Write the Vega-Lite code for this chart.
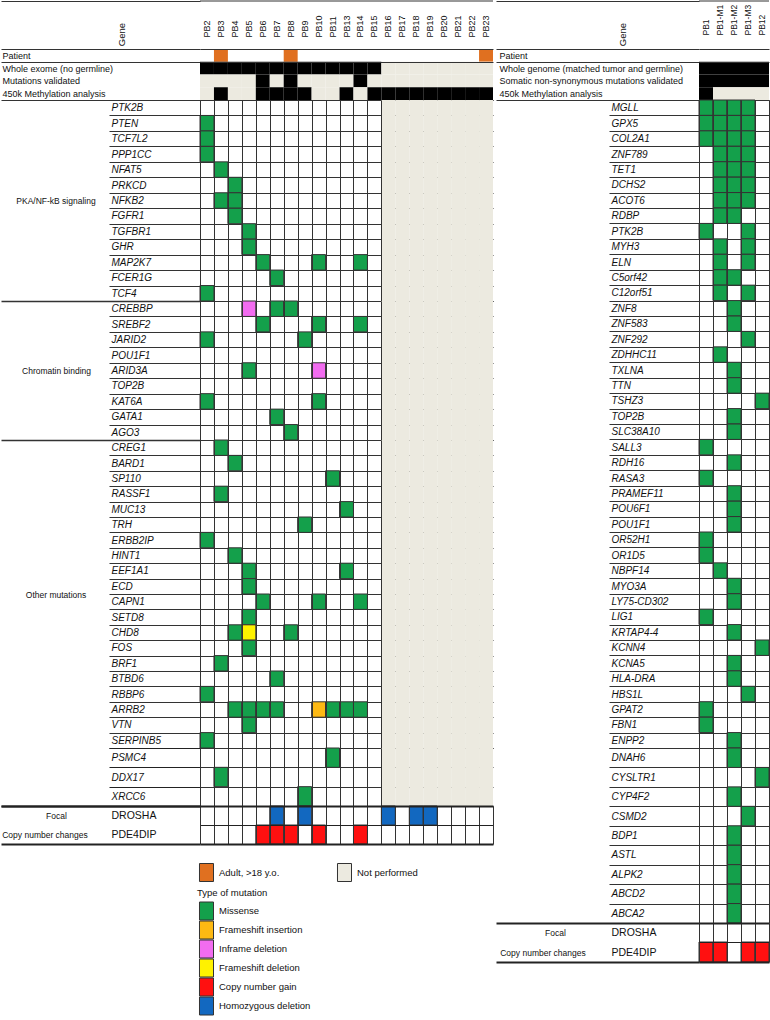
{
"$schema": "https://vega.github.io/schema/vega-lite/v6.json",
"padding": 0,
"background": "white",
"spacing": 1,
"bounds": "full",
"resolve": {"scale": {"color": "independent", "fill": "independent"}, "legend": {"color": "independent", "fill": "independent"}},
"config": {
  "font": "Liberation Sans",
  "view": {"stroke": null},
  "axis": {"labelFont": "Liberation Sans", "titleFont": "Liberation Sans", "labelColor": "#111", "titleColor": "#111", "labelOverlap": false, "labelLimit": 400, "domain": false},
  "legend": {"labelFont": "Liberation Sans", "titleFont": "Liberation Sans", "labelColor": "#111", "titleColor": "#111", "labelFontSize": 9.5, "titleFontSize": 9.5, "titleFontWeight": "normal", "padding": 0, "symbolType": "M-0.778,-1H0.778V1H-0.778Z", "symbolSize": 324, "symbolStrokeColor": "#333", "symbolStrokeWidth": 1, "labelOffset": 3, "rowPadding": 0}
},
"datasets": {
  "annL": [
    {"r":"Patient","p":"PB3","s":"Adult, >18 y.o."},
    {"r":"Patient","p":"PB8","s":"Adult, >18 y.o."},
    {"r":"Patient","p":"PB23","s":"Adult, >18 y.o."},
    {"r":"Whole exome (no germline)","p":"PB2","s":"Performed"},
    {"r":"Whole exome (no germline)","p":"PB3","s":"Performed"},
    {"r":"Whole exome (no germline)","p":"PB4","s":"Performed"},
    {"r":"Whole exome (no germline)","p":"PB5","s":"Performed"},
    {"r":"Whole exome (no germline)","p":"PB6","s":"Performed"},
    {"r":"Whole exome (no germline)","p":"PB7","s":"Performed"},
    {"r":"Whole exome (no germline)","p":"PB8","s":"Performed"},
    {"r":"Whole exome (no germline)","p":"PB9","s":"Performed"},
    {"r":"Whole exome (no germline)","p":"PB10","s":"Performed"},
    {"r":"Whole exome (no germline)","p":"PB11","s":"Performed"},
    {"r":"Whole exome (no germline)","p":"PB13","s":"Performed"},
    {"r":"Whole exome (no germline)","p":"PB14","s":"Performed"},
    {"r":"Whole exome (no germline)","p":"PB15","s":"Performed"},
    {"r":"Whole exome (no germline)","p":"PB16","s":"Not performed"},
    {"r":"Whole exome (no germline)","p":"PB17","s":"Not performed"},
    {"r":"Whole exome (no germline)","p":"PB18","s":"Not performed"},
    {"r":"Whole exome (no germline)","p":"PB19","s":"Not performed"},
    {"r":"Whole exome (no germline)","p":"PB20","s":"Not performed"},
    {"r":"Whole exome (no germline)","p":"PB21","s":"Not performed"},
    {"r":"Whole exome (no germline)","p":"PB22","s":"Not performed"},
    {"r":"Whole exome (no germline)","p":"PB23","s":"Not performed"},
    {"r":"Mutations validated","p":"PB2","s":"Not performed"},
    {"r":"Mutations validated","p":"PB3","s":"Not performed"},
    {"r":"Mutations validated","p":"PB4","s":"Not performed"},
    {"r":"Mutations validated","p":"PB5","s":"Not performed"},
    {"r":"Mutations validated","p":"PB6","s":"Performed"},
    {"r":"Mutations validated","p":"PB7","s":"Not performed"},
    {"r":"Mutations validated","p":"PB8","s":"Performed"},
    {"r":"Mutations validated","p":"PB9","s":"Not performed"},
    {"r":"Mutations validated","p":"PB10","s":"Not performed"},
    {"r":"Mutations validated","p":"PB11","s":"Not performed"},
    {"r":"Mutations validated","p":"PB13","s":"Not performed"},
    {"r":"Mutations validated","p":"PB14","s":"Performed"},
    {"r":"Mutations validated","p":"PB15","s":"Not performed"},
    {"r":"Mutations validated","p":"PB16","s":"Not performed"},
    {"r":"Mutations validated","p":"PB17","s":"Not performed"},
    {"r":"Mutations validated","p":"PB18","s":"Not performed"},
    {"r":"Mutations validated","p":"PB19","s":"Not performed"},
    {"r":"Mutations validated","p":"PB20","s":"Not performed"},
    {"r":"Mutations validated","p":"PB21","s":"Not performed"},
    {"r":"Mutations validated","p":"PB22","s":"Not performed"},
    {"r":"Mutations validated","p":"PB23","s":"Not performed"},
    {"r":"450k Methylation analysis","p":"PB2","s":"Not performed"},
    {"r":"450k Methylation analysis","p":"PB3","s":"Performed"},
    {"r":"450k Methylation analysis","p":"PB4","s":"Not performed"},
    {"r":"450k Methylation analysis","p":"PB5","s":"Not performed"},
    {"r":"450k Methylation analysis","p":"PB6","s":"Performed"},
    {"r":"450k Methylation analysis","p":"PB7","s":"Performed"},
    {"r":"450k Methylation analysis","p":"PB8","s":"Performed"},
    {"r":"450k Methylation analysis","p":"PB9","s":"Performed"},
    {"r":"450k Methylation analysis","p":"PB10","s":"Not performed"},
    {"r":"450k Methylation analysis","p":"PB11","s":"Not performed"},
    {"r":"450k Methylation analysis","p":"PB13","s":"Performed"},
    {"r":"450k Methylation analysis","p":"PB14","s":"Not performed"},
    {"r":"450k Methylation analysis","p":"PB15","s":"Performed"},
    {"r":"450k Methylation analysis","p":"PB16","s":"Performed"},
    {"r":"450k Methylation analysis","p":"PB17","s":"Performed"},
    {"r":"450k Methylation analysis","p":"PB18","s":"Performed"},
    {"r":"450k Methylation analysis","p":"PB19","s":"Performed"},
    {"r":"450k Methylation analysis","p":"PB20","s":"Performed"},
    {"r":"450k Methylation analysis","p":"PB21","s":"Performed"},
    {"r":"450k Methylation analysis","p":"PB22","s":"Performed"},
    {"r":"450k Methylation analysis","p":"PB23","s":"Performed"}
  ],
  "annR": [
    {"r":"Whole genome (matched tumor and germline)","p":"PB1","s":"Performed"},
    {"r":"Whole genome (matched tumor and germline)","p":"PB1-M1","s":"Performed"},
    {"r":"Whole genome (matched tumor and germline)","p":"PB1-M2","s":"Performed"},
    {"r":"Whole genome (matched tumor and germline)","p":"PB1-M3","s":"Performed"},
    {"r":"Whole genome (matched tumor and germline)","p":"PB12","s":"Performed"},
    {"r":"Somatic non-synonymous mutations validated","p":"PB1","s":"Performed"},
    {"r":"Somatic non-synonymous mutations validated","p":"PB1-M1","s":"Performed"},
    {"r":"Somatic non-synonymous mutations validated","p":"PB1-M2","s":"Performed"},
    {"r":"Somatic non-synonymous mutations validated","p":"PB1-M3","s":"Performed"},
    {"r":"Somatic non-synonymous mutations validated","p":"PB12","s":"Performed"},
    {"r":"450k Methylation analysis","p":"PB1","s":"Performed"},
    {"r":"450k Methylation analysis","p":"PB1-M1","s":"Not performed"},
    {"r":"450k Methylation analysis","p":"PB1-M2","s":"Not performed"},
    {"r":"450k Methylation analysis","p":"PB1-M3","s":"Not performed"},
    {"r":"450k Methylation analysis","p":"PB12","s":"Not performed"}
  ],
  "npL": [
    {"p":"PB16","s":"Not performed"},{"p":"PB17","s":"Not performed"},{"p":"PB18","s":"Not performed"},{"p":"PB19","s":"Not performed"},
    {"p":"PB20","s":"Not performed"},{"p":"PB21","s":"Not performed"},{"p":"PB22","s":"Not performed"},{"p":"PB23","s":"Not performed"}
  ],
  "mutL": [
    {"g":"PTEN","p":"PB2","t":"Missense"},
    {"g":"TCF7L2","p":"PB2","t":"Missense"},
    {"g":"PPP1CC","p":"PB2","t":"Missense"},
    {"g":"NFAT5","p":"PB3","t":"Missense"},
    {"g":"PRKCD","p":"PB4","t":"Missense"},
    {"g":"NFKB2","p":"PB3","t":"Missense"},
    {"g":"NFKB2","p":"PB4","t":"Missense"},
    {"g":"FGFR1","p":"PB4","t":"Missense"},
    {"g":"TGFBR1","p":"PB5","t":"Missense"},
    {"g":"GHR","p":"PB5","t":"Missense"},
    {"g":"MAP2K7","p":"PB6","t":"Missense"},
    {"g":"MAP2K7","p":"PB10","t":"Missense"},
    {"g":"MAP2K7","p":"PB14","t":"Missense"},
    {"g":"FCER1G","p":"PB7","t":"Missense"},
    {"g":"TCF4","p":"PB2","t":"Missense"},
    {"g":"CREBBP","p":"PB5","t":"Inframe deletion"},
    {"g":"CREBBP","p":"PB7","t":"Missense"},
    {"g":"CREBBP","p":"PB8","t":"Missense"},
    {"g":"SREBF2","p":"PB6","t":"Missense"},
    {"g":"SREBF2","p":"PB10","t":"Missense"},
    {"g":"SREBF2","p":"PB14","t":"Missense"},
    {"g":"JARID2","p":"PB2","t":"Missense"},
    {"g":"JARID2","p":"PB9","t":"Missense"},
    {"g":"ARID3A","p":"PB5","t":"Missense"},
    {"g":"ARID3A","p":"PB10","t":"Inframe deletion"},
    {"g":"KAT6A","p":"PB2","t":"Missense"},
    {"g":"KAT6A","p":"PB10","t":"Missense"},
    {"g":"GATA1","p":"PB7","t":"Missense"},
    {"g":"AGO3","p":"PB8","t":"Missense"},
    {"g":"CREG1","p":"PB3","t":"Missense"},
    {"g":"BARD1","p":"PB4","t":"Missense"},
    {"g":"SP110","p":"PB11","t":"Missense"},
    {"g":"RASSF1","p":"PB3","t":"Missense"},
    {"g":"MUC13","p":"PB13","t":"Missense"},
    {"g":"TRH","p":"PB9","t":"Missense"},
    {"g":"ERBB2IP","p":"PB2","t":"Missense"},
    {"g":"HINT1","p":"PB4","t":"Missense"},
    {"g":"EEF1A1","p":"PB5","t":"Missense"},
    {"g":"EEF1A1","p":"PB13","t":"Missense"},
    {"g":"ECD","p":"PB5","t":"Missense"},
    {"g":"CAPN1","p":"PB6","t":"Missense"},
    {"g":"CAPN1","p":"PB10","t":"Missense"},
    {"g":"CAPN1","p":"PB14","t":"Missense"},
    {"g":"SETD8","p":"PB5","t":"Missense"},
    {"g":"CHD8","p":"PB4","t":"Missense"},
    {"g":"CHD8","p":"PB5","t":"Frameshift deletion"},
    {"g":"CHD8","p":"PB8","t":"Missense"},
    {"g":"FOS","p":"PB5","t":"Missense"},
    {"g":"BRF1","p":"PB3","t":"Missense"},
    {"g":"BTBD6","p":"PB7","t":"Missense"},
    {"g":"RBBP6","p":"PB2","t":"Missense"},
    {"g":"ARRB2","p":"PB4","t":"Missense"},
    {"g":"ARRB2","p":"PB5","t":"Missense"},
    {"g":"ARRB2","p":"PB6","t":"Missense"},
    {"g":"ARRB2","p":"PB7","t":"Missense"},
    {"g":"ARRB2","p":"PB10","t":"Frameshift insertion"},
    {"g":"ARRB2","p":"PB11","t":"Missense"},
    {"g":"ARRB2","p":"PB13","t":"Missense"},
    {"g":"ARRB2","p":"PB14","t":"Missense"},
    {"g":"VTN","p":"PB5","t":"Missense"},
    {"g":"SERPINB5","p":"PB2","t":"Missense"},
    {"g":"PSMC4","p":"PB11","t":"Missense"},
    {"g":"DDX17","p":"PB3","t":"Missense"},
    {"g":"XRCC6","p":"PB9","t":"Missense"}
  ],
  "cnvL": [
    {"g":"DROSHA","p":"PB7","t":"Homozygous deletion"},
    {"g":"DROSHA","p":"PB9","t":"Homozygous deletion"},
    {"g":"DROSHA","p":"PB16","t":"Homozygous deletion"},
    {"g":"DROSHA","p":"PB18","t":"Homozygous deletion"},
    {"g":"DROSHA","p":"PB19","t":"Homozygous deletion"},
    {"g":"PDE4DIP","p":"PB6","t":"Copy number gain"},
    {"g":"PDE4DIP","p":"PB7","t":"Copy number gain"},
    {"g":"PDE4DIP","p":"PB8","t":"Copy number gain"},
    {"g":"PDE4DIP","p":"PB10","t":"Copy number gain"},
    {"g":"PDE4DIP","p":"PB14","t":"Copy number gain"}
  ],
  "mutR": [
    {"g":"MGLL","p":"PB1","t":"Missense"},{"g":"MGLL","p":"PB1-M1","t":"Missense"},{"g":"MGLL","p":"PB1-M2","t":"Missense"},{"g":"MGLL","p":"PB1-M3","t":"Missense"},
    {"g":"GPX5","p":"PB1","t":"Missense"},{"g":"GPX5","p":"PB1-M1","t":"Missense"},{"g":"GPX5","p":"PB1-M2","t":"Missense"},{"g":"GPX5","p":"PB1-M3","t":"Missense"},
    {"g":"COL2A1","p":"PB1","t":"Missense"},{"g":"COL2A1","p":"PB1-M1","t":"Missense"},{"g":"COL2A1","p":"PB1-M2","t":"Missense"},{"g":"COL2A1","p":"PB1-M3","t":"Missense"},
    {"g":"ZNF789","p":"PB1-M1","t":"Missense"},{"g":"ZNF789","p":"PB1-M2","t":"Missense"},{"g":"ZNF789","p":"PB1-M3","t":"Missense"},
    {"g":"TET1","p":"PB1-M1","t":"Missense"},{"g":"TET1","p":"PB1-M2","t":"Missense"},{"g":"TET1","p":"PB1-M3","t":"Missense"},
    {"g":"DCHS2","p":"PB1-M1","t":"Missense"},{"g":"DCHS2","p":"PB1-M2","t":"Missense"},{"g":"DCHS2","p":"PB1-M3","t":"Missense"},
    {"g":"ACOT6","p":"PB1-M1","t":"Missense"},{"g":"ACOT6","p":"PB1-M2","t":"Missense"},{"g":"ACOT6","p":"PB1-M3","t":"Missense"},
    {"g":"RDBP","p":"PB1-M1","t":"Missense"},{"g":"RDBP","p":"PB1-M2","t":"Missense"},
    {"g":"PTK2B","p":"PB1","t":"Missense"},{"g":"PTK2B","p":"PB1-M3","t":"Missense"},
    {"g":"MYH3","p":"PB1-M1","t":"Missense"},{"g":"MYH3","p":"PB1-M3","t":"Missense"},
    {"g":"ELN","p":"PB1-M1","t":"Missense"},{"g":"ELN","p":"PB1-M3","t":"Missense"},
    {"g":"C5orf42","p":"PB1-M1","t":"Missense"},{"g":"C5orf42","p":"PB1-M2","t":"Missense"},
    {"g":"C12orf51","p":"PB1-M1","t":"Missense"},{"g":"C12orf51","p":"PB1-M3","t":"Missense"},
    {"g":"ZNF8","p":"PB1-M2","t":"Missense"},
    {"g":"ZNF583","p":"PB1-M2","t":"Missense"},
    {"g":"ZNF292","p":"PB1-M3","t":"Missense"},
    {"g":"ZDHHC11","p":"PB1-M1","t":"Missense"},
    {"g":"TXLNA","p":"PB1-M2","t":"Missense"},
    {"g":"TTN","p":"PB1-M2","t":"Missense"},
    {"g":"TSHZ3","p":"PB12","t":"Missense"},
    {"g":"TOP2B","p":"PB1-M2","t":"Missense"},
    {"g":"SLC38A10","p":"PB1-M2","t":"Missense"},
    {"g":"SALL3","p":"PB1","t":"Missense"},
    {"g":"RDH16","p":"PB1-M2","t":"Missense"},
    {"g":"RASA3","p":"PB1","t":"Missense"},
    {"g":"PRAMEF11","p":"PB1-M2","t":"Missense"},
    {"g":"POU6F1","p":"PB1-M2","t":"Missense"},
    {"g":"POU1F1","p":"PB1-M2","t":"Missense"},
    {"g":"OR52H1","p":"PB1","t":"Missense"},
    {"g":"OR1D5","p":"PB1","t":"Missense"},
    {"g":"NBPF14","p":"PB1-M1","t":"Missense"},
    {"g":"MYO3A","p":"PB1-M2","t":"Missense"},
    {"g":"LY75-CD302","p":"PB1-M2","t":"Missense"},
    {"g":"LIG1","p":"PB1","t":"Missense"},
    {"g":"KRTAP4-4","p":"PB1-M2","t":"Missense"},
    {"g":"KCNN4","p":"PB12","t":"Missense"},
    {"g":"KCNA5","p":"PB1-M2","t":"Missense"},
    {"g":"HLA-DRA","p":"PB1-M2","t":"Missense"},
    {"g":"HBS1L","p":"PB1-M3","t":"Missense"},
    {"g":"GPAT2","p":"PB1","t":"Missense"},
    {"g":"FBN1","p":"PB1","t":"Missense"},
    {"g":"ENPP2","p":"PB1-M2","t":"Missense"},
    {"g":"DNAH6","p":"PB1-M2","t":"Missense"},
    {"g":"CYSLTR1","p":"PB12","t":"Missense"},
    {"g":"CYP4F2","p":"PB1-M2","t":"Missense"},
    {"g":"CSMD2","p":"PB1-M3","t":"Missense"},
    {"g":"BDP1","p":"PB1-M2","t":"Missense"},
    {"g":"ASTL","p":"PB1-M2","t":"Missense"},
    {"g":"ALPK2","p":"PB1-M2","t":"Missense"},
    {"g":"ABCD2","p":"PB1-M2","t":"Missense"},
    {"g":"ABCA2","p":"PB1-M2","t":"Missense"}
  ],
  "cnvR": [
    {"g":"PDE4DIP","p":"PB1","t":"Copy number gain"},
    {"g":"PDE4DIP","p":"PB1-M1","t":"Copy number gain"},
    {"g":"PDE4DIP","p":"PB1-M3","t":"Copy number gain"},
    {"g":"PDE4DIP","p":"PB12","t":"Copy number gain"}
  ]
},
"hconcat": [
 {
  "spacing": 0, "bounds": "flush",
  "resolve": {"scale": {"color": "independent", "fill": "independent"}, "legend": {"color": "independent", "fill": "independent"}},
  "vconcat": [
   {
    "width": 293, "height": 48,
    "data": {"values": [{"h": "Gene"}]},
    "mark": {"type": "rule", "color": "#333", "strokeWidth": 1},
    "encoding": {"y": {"field": "h", "type": "nominal", "scale": {"type": "point", "domain": ["Gene"], "padding": 0, "align": 0},
      "axis": {"title": null, "tickSize": 199, "tickColor": "#333", "labelAngle": -90, "labelAlign": "center", "labelBaseline": "middle", "labelPadding": -120, "labelOffset": 33, "labelFontSize": 9.5, "grid": false}}}
   },
   {
    "width": 293, "height": 51,
    "data": {"name": "annL"},
    "mark": {"type": "rect"},
    "encoding": {
     "x": {"field": "p", "type": "nominal", "scale": {"domain": ["PB2","PB3","PB4","PB5","PB6","PB7","PB8","PB9","PB10","PB11","PB13","PB14","PB15","PB16","PB17","PB18","PB19","PB20","PB21","PB22","PB23"], "paddingInner": 0, "paddingOuter": 0},
       "axis": {"orient": "top", "title": null, "labelAngle": -90, "labelAlign": "left", "labelBaseline": "middle", "labelPadding": 12, "ticks": false, "tickSize": 0, "grid": false, "labelFontSize": 9}},
     "y": {"field": "r", "type": "nominal", "scale": {"domain": ["Patient","Whole exome (no germline)","Mutations validated","450k Methylation analysis"], "paddingInner": 0, "paddingOuter": 0},
       "axis": {"title": null, "tickBand": "extent", "tickSize": 199, "tickColor": "#333", "grid": true, "gridColor": "#333", "zindex": 1, "labelAlign": "left", "labelPadding": -1, "labelFontSize": 9,
         "tickOpacity": {"condition": {"test": "datum.value === 'Whole exome (no germline)' || datum.value === 'Mutations validated'", "value": 0}, "value": 1},
         "gridOpacity": {"condition": {"test": "datum.value === 'Whole exome (no germline)' || datum.value === 'Mutations validated'", "value": 0}, "value": 1}}},
     "color": {"field": "s", "type": "nominal", "scale": {"domain": ["Adult, >18 y.o.","Not performed","Performed"], "range": ["#E07020","#ECEAE0","#000000"]},
       "legend": {"values": ["Adult, >18 y.o.","Not performed"], "title": null, "orient": "none", "legendX": -3, "legendY": 814, "direction": "horizontal", "columns": 2, "columnPadding": 55,
         "encode": {"symbols": {"update": {"strokeJoin": {"value": "bevel"}}}}}}
    }
   },
   {
    "width": 293, "height": 201,
    "layer": [
     {"data": {"name": "npL"}, "mark": {"type": "rect", "color": "#ECEAE0"},
      "encoding": {"x": {"field": "p", "type": "nominal", "scale": {"domain": ["PB2","PB3","PB4","PB5","PB6","PB7","PB8","PB9","PB10","PB11","PB13","PB14","PB15","PB16","PB17","PB18","PB19","PB20","PB21","PB22","PB23"], "paddingInner": 0, "paddingOuter": 0},
        "axis": {"title": null, "labels": false, "ticks": false, "grid": true, "tickBand": "extent", "gridColor": "#333", "zindex": 1, "gridOpacity": {"condition": {"test": "indexof(['PB16','PB17','PB18','PB19','PB20','PB21','PB22','PB23'], datum.value) >= 0", "value": 0}, "value": 1}}}}},
     {"data": {"name": "mutL"}, "transform": [{"filter": {"field": "g", "oneOf": ["PTK2B","PTEN","TCF7L2","PPP1CC","NFAT5","PRKCD","NFKB2","FGFR1","TGFBR1","GHR","MAP2K7","FCER1G","TCF4"]}}],
      "mark": {"type": "rect", "stroke": "#333", "strokeWidth": 1},
      "encoding": {
       "x": {"field": "p", "type": "nominal"},
       "y": {"field": "g", "type": "nominal", "scale": {"domain": ["PTK2B","PTEN","TCF7L2","PPP1CC","NFAT5","PRKCD","NFKB2","FGFR1","TGFBR1","GHR","MAP2K7","FCER1G","TCF4"], "paddingInner": 0, "paddingOuter": 0},
         "axis": {"title": "PKA/NF-kB signaling", "titleAngle": 0, "titleX": -144.5, "titleAlign": "center", "titleBaseline": "middle", "titleFontSize": 8.5, "titleFontWeight": "normal",
           "tickBand": "extent", "tickSize": 199, "tickColor": "#333",
           "tickDash": {"condition": {"test": "datum.value === 'TCF4'", "value": [300, 0]}, "value": [91, 400]},
           "tickWidth": {"condition": {"test": "datum.value === 'TCF4'", "value": 1.5}, "value": 1},
           "labelAlign": "left", "labelPadding": -110, "labelFontSize": 10, "labelFontStyle": "italic",
           "grid": true, "gridColor": "#333", "zindex": 0}},
       "fill": {"field": "t", "type": "nominal", "scale": {"domain": ["Missense","Frameshift insertion","Inframe deletion","Frameshift deletion","Copy number gain","Homozygous deletion"], "range": ["#14A04B","#FDB913","#F26CF0","#FFF200","#FF1010","#1268C0"]}, "legend": null}
      }}
    ]
   },
   {
    "width": 293, "height": 139,
    "layer": [
     {"data": {"name": "npL"}, "mark": {"type": "rect", "color": "#ECEAE0"},
      "encoding": {"x": {"field": "p", "type": "nominal", "scale": {"domain": ["PB2","PB3","PB4","PB5","PB6","PB7","PB8","PB9","PB10","PB11","PB13","PB14","PB15","PB16","PB17","PB18","PB19","PB20","PB21","PB22","PB23"], "paddingInner": 0, "paddingOuter": 0},
        "axis": {"title": null, "labels": false, "ticks": false, "grid": true, "tickBand": "extent", "gridColor": "#333", "zindex": 1, "gridOpacity": {"condition": {"test": "indexof(['PB16','PB17','PB18','PB19','PB20','PB21','PB22','PB23'], datum.value) >= 0", "value": 0}, "value": 1}}}}},
     {"data": {"name": "mutL"}, "transform": [{"filter": {"field": "g", "oneOf": ["CREBBP","SREBF2","JARID2","POU1F1","ARID3A","TOP2B","KAT6A","GATA1","AGO3"]}}],
      "mark": {"type": "rect", "stroke": "#333", "strokeWidth": 1},
      "encoding": {
       "x": {"field": "p", "type": "nominal"},
       "y": {"field": "g", "type": "nominal", "scale": {"domain": ["CREBBP","SREBF2","JARID2","POU1F1","ARID3A","TOP2B","KAT6A","GATA1","AGO3"], "paddingInner": 0, "paddingOuter": 0},
         "axis": {"title": "Chromatin binding", "titleAngle": 0, "titleX": -144, "titleAlign": "center", "titleBaseline": "middle", "titleFontSize": 8.5, "titleFontWeight": "normal",
           "tickBand": "extent", "tickSize": 199, "tickColor": "#333",
           "tickDash": {"condition": {"test": "datum.value === 'AGO3'", "value": [300, 0]}, "value": [91, 400]},
           "tickWidth": {"condition": {"test": "datum.value === 'AGO3'", "value": 1.5}, "value": 1},
           "labelAlign": "left", "labelPadding": -110, "labelFontSize": 10, "labelFontStyle": "italic",
           "grid": true, "gridColor": "#333", "zindex": 0}},
       "fill": {"field": "t", "type": "nominal", "scale": {"domain": ["Missense","Frameshift insertion","Inframe deletion","Frameshift deletion","Copy number gain","Homozygous deletion"], "range": ["#14A04B","#FDB913","#F26CF0","#FFF200","#FF1010","#1268C0"]}, "legend": null}
      }}
    ]
   },
   {
    "width": 293, "height": 308,
    "layer": [
     {"data": {"name": "npL"}, "mark": {"type": "rect", "color": "#ECEAE0"},
      "encoding": {"x": {"field": "p", "type": "nominal", "scale": {"domain": ["PB2","PB3","PB4","PB5","PB6","PB7","PB8","PB9","PB10","PB11","PB13","PB14","PB15","PB16","PB17","PB18","PB19","PB20","PB21","PB22","PB23"], "paddingInner": 0, "paddingOuter": 0},
        "axis": {"title": null, "labels": false, "ticks": false, "grid": true, "tickBand": "extent", "gridColor": "#333", "zindex": 1, "gridOpacity": {"condition": {"test": "indexof(['PB16','PB17','PB18','PB19','PB20','PB21','PB22','PB23'], datum.value) >= 0", "value": 0}, "value": 1}}}}},
     {"data": {"name": "mutL"}, "transform": [{"filter": {"field": "g", "oneOf": ["CREG1","BARD1","SP110","RASSF1","MUC13","TRH","ERBB2IP","HINT1","EEF1A1","ECD","CAPN1","SETD8","CHD8","FOS","BRF1","BTBD6","RBBP6","ARRB2","VTN","SERPINB5"]}}],
      "mark": {"type": "rect", "stroke": "#333", "strokeWidth": 1},
      "encoding": {
       "x": {"field": "p", "type": "nominal"},
       "y": {"field": "g", "type": "nominal", "scale": {"domain": ["CREG1","BARD1","SP110","RASSF1","MUC13","TRH","ERBB2IP","HINT1","EEF1A1","ECD","CAPN1","SETD8","CHD8","FOS","BRF1","BTBD6","RBBP6","ARRB2","VTN","SERPINB5"], "paddingInner": 0, "paddingOuter": 0},
         "axis": {"title": "Other mutations", "titleAngle": 0, "titleX": -144.5, "titleAlign": "center", "titleBaseline": "middle", "titleFontSize": 8.5, "titleFontWeight": "normal",
           "tickBand": "extent", "tickSize": 199, "tickColor": "#333", "tickDash": [91, 400], "tickWidth": 1,
           "labelAlign": "left", "labelPadding": -110, "labelFontSize": 10, "labelFontStyle": "italic",
           "grid": true, "gridColor": "#333", "zindex": 0}},
       "fill": {"field": "t", "type": "nominal", "scale": {"domain": ["Missense","Frameshift insertion","Inframe deletion","Frameshift deletion","Copy number gain","Homozygous deletion"], "range": ["#14A04B","#FDB913","#F26CF0","#FFF200","#FF1010","#1268C0"]}, "legend": null}
      }}
    ]
   },
   {
    "width": 293, "height": 58,
    "layer": [
     {"data": {"name": "npL"}, "mark": {"type": "rect", "color": "#ECEAE0"},
      "encoding": {"x": {"field": "p", "type": "nominal", "scale": {"domain": ["PB2","PB3","PB4","PB5","PB6","PB7","PB8","PB9","PB10","PB11","PB13","PB14","PB15","PB16","PB17","PB18","PB19","PB20","PB21","PB22","PB23"], "paddingInner": 0, "paddingOuter": 0},
        "axis": {"title": null, "labels": false, "ticks": false, "grid": true, "tickBand": "extent", "gridColor": "#333", "zindex": 1, "gridOpacity": {"condition": {"test": "indexof(['PB16','PB17','PB18','PB19','PB20','PB21','PB22','PB23'], datum.value) >= 0", "value": 0}, "value": 1}}}}},
     {"data": {"name": "mutL"}, "transform": [{"filter": {"field": "g", "oneOf": ["PSMC4","DDX17","XRCC6"]}}],
      "mark": {"type": "rect", "stroke": "#333", "strokeWidth": 1},
      "encoding": {
       "x": {"field": "p", "type": "nominal"},
       "y": {"field": "g", "type": "nominal", "scale": {"domain": ["PSMC4","DDX17","XRCC6"], "paddingInner": 0, "paddingOuter": 0},
         "axis": {"title": null,
           "tickBand": "extent", "tickSize": 199, "tickColor": "#222",
           "tickDash": {"condition": {"test": "datum.value === 'XRCC6'", "value": [300, 0]}, "value": [91, 400]},
           "tickWidth": {"condition": {"test": "datum.value === 'XRCC6'", "value": 2}, "value": 1},
           "labelAlign": "left", "labelPadding": -110, "labelFontSize": 10, "labelFontStyle": "italic",
           "grid": true, "gridColor": "#333", "zindex": 0}},
       "fill": {"field": "t", "type": "nominal", "scale": {"domain": ["Missense","Frameshift insertion","Inframe deletion","Frameshift deletion","Copy number gain","Homozygous deletion"], "range": ["#14A04B","#FDB913","#F26CF0","#FFF200","#FF1010","#1268C0"]}, "legend": null}
      }}
    ]
   },
   {
    "width": 293, "height": 19,
    "data": {"name": "cnvL"}, "transform": [{"filter": "datum.g === 'DROSHA'"}],
    "mark": {"type": "rect", "stroke": "#333", "strokeWidth": 1},
    "encoding": {
     "x": {"field": "p", "type": "nominal", "scale": {"domain": ["PB2","PB3","PB4","PB5","PB6","PB7","PB8","PB9","PB10","PB11","PB13","PB14","PB15","PB16","PB17","PB18","PB19","PB20","PB21","PB22","PB23"], "paddingInner": 0, "paddingOuter": 0},
       "axis": {"title": null, "labels": false, "ticks": false, "grid": true, "tickBand": "extent", "gridColor": "#333", "zindex": 1}},
     "y": {"field": "g", "type": "nominal", "scale": {"domain": ["DROSHA"], "paddingInner": 0, "paddingOuter": 0},
       "axis": {"title": "Focal", "titleAngle": 0, "titleX": -144, "titleAlign": "center", "titleBaseline": "middle", "titleFontSize": 8.5, "titleFontWeight": "normal",
         "tickBand": "extent", "tickSize": 199, "tickColor": "#222", "tickWidth": 2,
         "tickOpacity": {"condition": {"test": "datum.value === 'DROSHA'", "value": 0}, "value": 1},
         "grid": true, "gridColor": "#222", "gridWidth": {"condition": {"test": "datum.value === 'DROSHA'", "value": 1}, "value": 2}, "zindex": 1,
         "labelAlign": "left", "labelPadding": -110, "labelFontSize": 10.5}},
     "fill": {"field": "t", "type": "nominal", "scale": {"domain": ["Missense","Frameshift insertion","Inframe deletion","Frameshift deletion","Copy number gain","Homozygous deletion"], "range": ["#14A04B","#FDB913","#F26CF0","#FFF200","#FF1010","#1268C0"]}, "legend": null}
    }
   },
   {
    "width": 293, "height": 19,
    "data": {"name": "cnvL"}, "transform": [{"filter": "datum.g === 'PDE4DIP'"}],
    "mark": {"type": "rect", "stroke": "#333", "strokeWidth": 1},
    "encoding": {
     "x": {"field": "p", "type": "nominal", "scale": {"domain": ["PB2","PB3","PB4","PB5","PB6","PB7","PB8","PB9","PB10","PB11","PB13","PB14","PB15","PB16","PB17","PB18","PB19","PB20","PB21","PB22","PB23"], "paddingInner": 0, "paddingOuter": 0},
       "axis": {"title": null, "labels": false, "ticks": false, "grid": true, "tickBand": "extent", "gridColor": "#333", "zindex": 1}},
     "y": {"field": "g", "type": "nominal", "scale": {"domain": ["PDE4DIP"], "paddingInner": 0, "paddingOuter": 0},
       "axis": {"title": "Copy number changes", "titleAngle": 0, "titleX": -155.5, "titleAlign": "center", "titleBaseline": "middle", "titleFontSize": 8.5, "titleFontWeight": "normal",
         "tickBand": "extent", "tickSize": 199, "tickColor": "#222", "tickWidth": 2,
         "tickOpacity": {"condition": {"test": "datum.value === 'PDE4DIP'", "value": 1}, "value": 0},
         "grid": true, "gridColor": "#222", "gridWidth": {"condition": {"test": "datum.value === 'PDE4DIP'", "value": 2}, "value": 1}, "zindex": 1,
         "labelAlign": "left", "labelPadding": -110, "labelFontSize": 10.5}},
     "fill": {"field": "t", "type": "nominal", "scale": {"domain": ["Missense","Frameshift insertion","Inframe deletion","Frameshift deletion","Copy number gain","Homozygous deletion"], "range": ["#14A04B","#FDB913","#F26CF0","#FFF200","#FF1010","#1268C0"]},
       "legend": {"title": "Type of mutation", "orient": "none", "legendX": -3, "legendY": 63, "direction": "vertical", "titlePadding": 4, "rowPadding": -0.5,
         "encode": {"symbols": {"update": {"strokeJoin": {"value": "bevel"}}}}}}
    }
   }
  ]
 },
 {
  "spacing": 0, "bounds": "flush",
  "resolve": {"scale": {"color": "independent", "fill": "independent"}, "legend": {"color": "independent", "fill": "independent"}},
  "vconcat": [
   {
    "width": 70, "height": 48,
    "data": {"values": [{"h": "Gene"}]},
    "mark": {"type": "rule", "color": "#333", "strokeWidth": 1},
    "encoding": {"y": {"field": "h", "type": "nominal", "scale": {"type": "point", "domain": ["Gene"], "padding": 0, "align": 0},
      "axis": {"title": null, "tickSize": 203, "tickColor": "#333", "labelAngle": -90, "labelAlign": "center", "labelBaseline": "middle", "labelPadding": -126, "labelOffset": 33, "labelFontSize": 9.5, "grid": false}}}
   },
   {
    "width": 70, "height": 51,
    "data": {"name": "annR"},
    "mark": {"type": "rect"},
    "encoding": {
     "x": {"field": "p", "type": "nominal", "scale": {"domain": ["PB1","PB1-M1","PB1-M2","PB1-M3","PB12"], "paddingInner": 0, "paddingOuter": 0},
       "axis": {"orient": "top", "title": null, "labelAngle": -90, "labelAlign": "left", "labelBaseline": "middle", "labelPadding": 14, "ticks": false, "tickSize": 0, "grid": false, "labelFontSize": 8.5}},
     "y": {"field": "r", "type": "nominal", "scale": {"domain": ["Patient","Whole genome (matched tumor and germline)","Somatic non-synonymous mutations validated","450k Methylation analysis"], "paddingInner": 0, "paddingOuter": 0},
       "axis": {"title": null, "tickBand": "extent", "tickSize": 203, "tickColor": "#333", "grid": true, "gridColor": "#333", "zindex": 1, "labelAlign": "left", "labelPadding": -3, "labelFontSize": 9,
         "tickOpacity": {"condition": {"test": "datum.value === 'Whole genome (matched tumor and germline)' || datum.value === 'Somatic non-synonymous mutations validated'", "value": 0}, "value": 1},
         "gridOpacity": {"condition": {"test": "datum.value === 'Whole genome (matched tumor and germline)' || datum.value === 'Somatic non-synonymous mutations validated'", "value": 0}, "value": 1}}},
     "color": {"field": "s", "type": "nominal", "scale": {"domain": ["Adult, >18 y.o.","Not performed","Performed"], "range": ["#E07020","#ECEAE0","#000000"]}, "legend": null}
    }
   },
   {
    "width": 70, "height": 648,
    "data": {"name": "mutR"}, "transform": [{"filter": {"not": {"field": "g", "oneOf": ["DNAH6","CYSLTR1","CYP4F2","CSMD2","BDP1","ASTL","ALPK2","ABCD2","ABCA2"]}}}],
    "mark": {"type": "rect", "stroke": "#333", "strokeWidth": 1},
    "encoding": {
     "x": {"field": "p", "type": "nominal", "scale": {"domain": ["PB1","PB1-M1","PB1-M2","PB1-M3","PB12"], "paddingInner": 0, "paddingOuter": 0},
       "axis": {"title": null, "labels": false, "ticks": false, "grid": true, "tickBand": "extent", "gridColor": "#333", "zindex": 1}},
     "y": {"field": "g", "type": "nominal", "scale": {"domain": ["MGLL","GPX5","COL2A1","ZNF789","TET1","DCHS2","ACOT6","RDBP","PTK2B","MYH3","ELN","C5orf42","C12orf51","ZNF8","ZNF583","ZNF292","ZDHHC11","TXLNA","TTN","TSHZ3","TOP2B","SLC38A10","SALL3","RDH16","RASA3","PRAMEF11","POU6F1","POU1F1","OR52H1","OR1D5","NBPF14","MYO3A","LY75-CD302","LIG1","KRTAP4-4","KCNN4","KCNA5","HLA-DRA","HBS1L","GPAT2","FBN1","ENPP2"], "paddingInner": 0, "paddingOuter": 0},
       "axis": {"title": null, "tickBand": "extent", "tickSize": 203, "tickColor": "#333", "tickDash": [90, 400], "tickWidth": 1,
         "labelAlign": "left", "labelPadding": -115, "labelFontSize": 10, "labelFontStyle": "italic",
         "grid": true, "gridColor": "#333", "zindex": 0}},
     "fill": {"field": "t", "type": "nominal", "scale": {"domain": ["Missense","Frameshift insertion","Inframe deletion","Frameshift deletion","Copy number gain","Homozygous deletion"], "range": ["#14A04B","#FDB913","#F26CF0","#FFF200","#FF1010","#1268C0"]}, "legend": null}
    }
   },
   {
    "width": 70, "height": 175,
    "data": {"name": "mutR"}, "transform": [{"filter": {"field": "g", "oneOf": ["DNAH6","CYSLTR1","CYP4F2","CSMD2","BDP1","ASTL","ALPK2","ABCD2","ABCA2"]}}],
    "mark": {"type": "rect", "stroke": "#333", "strokeWidth": 1},
    "encoding": {
     "x": {"field": "p", "type": "nominal", "scale": {"domain": ["PB1","PB1-M1","PB1-M2","PB1-M3","PB12"], "paddingInner": 0, "paddingOuter": 0},
       "axis": {"title": null, "labels": false, "ticks": false, "grid": true, "tickBand": "extent", "gridColor": "#333", "zindex": 1}},
     "y": {"field": "g", "type": "nominal", "scale": {"domain": ["DNAH6","CYSLTR1","CYP4F2","CSMD2","BDP1","ASTL","ALPK2","ABCD2","ABCA2"], "paddingInner": 0, "paddingOuter": 0},
       "axis": {"title": null, "tickBand": "extent", "tickSize": 203, "tickColor": "#333", "tickDash": [90, 400], "tickWidth": 1,
         "labelAlign": "left", "labelPadding": -115, "labelFontSize": 10, "labelFontStyle": "italic",
         "grid": true, "gridColor": "#333", "zindex": 0}},
     "fill": {"field": "t", "type": "nominal", "scale": {"domain": ["Missense","Frameshift insertion","Inframe deletion","Frameshift deletion","Copy number gain","Homozygous deletion"], "range": ["#14A04B","#FDB913","#F26CF0","#FFF200","#FF1010","#1268C0"]}, "legend": null}
    }
   },
   {
    "width": 70, "height": 19,
    "data": {"name": "cnvR"}, "transform": [{"filter": "datum.g === 'DROSHA'"}],
    "mark": {"type": "rect", "stroke": "#333", "strokeWidth": 1},
    "encoding": {
     "x": {"field": "p", "type": "nominal", "scale": {"domain": ["PB1","PB1-M1","PB1-M2","PB1-M3","PB12"], "paddingInner": 0, "paddingOuter": 0},
       "axis": {"title": null, "labels": false, "ticks": false, "grid": true, "tickBand": "extent", "gridColor": "#333", "zindex": 1}},
     "y": {"field": "g", "type": "nominal", "scale": {"domain": ["DROSHA"], "paddingInner": 0, "paddingOuter": 0},
       "axis": {"title": "Focal", "titleAngle": 0, "titleX": -144, "titleAlign": "center", "titleBaseline": "middle", "titleFontSize": 8.5, "titleFontWeight": "normal",
         "tickBand": "extent", "tickSize": 203, "tickColor": "#222", "tickWidth": 2,
         "tickOpacity": {"condition": {"test": "datum.value === 'DROSHA'", "value": 0}, "value": 1},
         "grid": true, "gridColor": "#222", "gridWidth": {"condition": {"test": "datum.value === 'DROSHA'", "value": 1}, "value": 2}, "zindex": 1,
         "labelAlign": "left", "labelPadding": -115, "labelFontSize": 10.5}},
     "fill": {"field": "t", "type": "nominal", "scale": {"domain": ["Missense","Frameshift insertion","Inframe deletion","Frameshift deletion","Copy number gain","Homozygous deletion"], "range": ["#14A04B","#FDB913","#F26CF0","#FFF200","#FF1010","#1268C0"]}, "legend": null}
    }
   },
   {
    "width": 70, "height": 20,
    "data": {"name": "cnvR"}, "transform": [{"filter": "datum.g === 'PDE4DIP'"}],
    "mark": {"type": "rect", "stroke": "#333", "strokeWidth": 1},
    "encoding": {
     "x": {"field": "p", "type": "nominal", "scale": {"domain": ["PB1","PB1-M1","PB1-M2","PB1-M3","PB12"], "paddingInner": 0, "paddingOuter": 0},
       "axis": {"title": null, "labels": false, "ticks": false, "grid": true, "tickBand": "extent", "gridColor": "#333", "zindex": 1}},
     "y": {"field": "g", "type": "nominal", "scale": {"domain": ["PDE4DIP"], "paddingInner": 0, "paddingOuter": 0},
       "axis": {"title": "Copy number changes", "titleAngle": 0, "titleX": -156.5, "titleAlign": "center", "titleBaseline": "middle", "titleFontSize": 8.5, "titleFontWeight": "normal",
         "tickBand": "extent", "tickSize": 203, "tickColor": "#222", "tickWidth": 2,
         "tickOpacity": {"condition": {"test": "datum.value === 'PDE4DIP'", "value": 1}, "value": 0},
         "grid": true, "gridColor": "#222", "gridWidth": {"condition": {"test": "datum.value === 'PDE4DIP'", "value": 2}, "value": 1}, "zindex": 1,
         "labelAlign": "left", "labelPadding": -115, "labelFontSize": 10.5}},
     "fill": {"field": "t", "type": "nominal", "scale": {"domain": ["Missense","Frameshift insertion","Inframe deletion","Frameshift deletion","Copy number gain","Homozygous deletion"], "range": ["#14A04B","#FDB913","#F26CF0","#FFF200","#FF1010","#1268C0"]}, "legend": null}
    }
   }
  ]
 }
]
}
